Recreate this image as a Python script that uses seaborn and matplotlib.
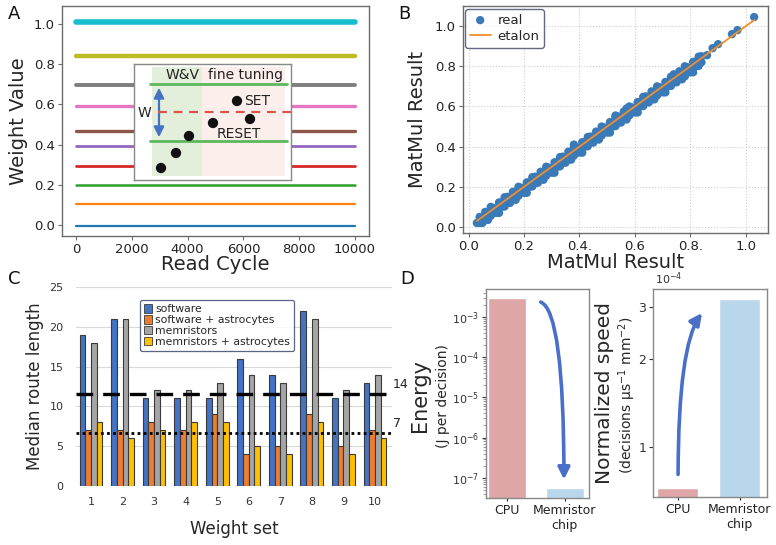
import matplotlib
matplotlib.use("Agg")
import numpy as np
import pandas as pd
import matplotlib.pyplot as plt
import seaborn as sns
from matplotlib.patches import Rectangle, FancyArrowPatch
from matplotlib.ticker import NullFormatter, NullLocator

# ---------------- data ----------------
# Panel A
read_cycle = [0, 10000]
weight_levels = [-0.005, 0.105, 0.2, 0.295, 0.393, 0.47, 0.59, 0.695, 0.84, 1.01]
a_ticks_x = [0, 2000, 4000, 6000, 8000, 10000]
a_ticks_y = [0.0, 0.2, 0.4, 0.6, 0.8, 1.0]
# inset schematic (W&V / fine tuning)
inset_dots_x = [27, 42, 55, 79, 103, 116]
inset_dots_y = [104, 89, 72, 59, 37, 55]

# Panel B
real_x = [0.03, 0.04, 0.04, 0.05, 0.05, 0.06, 0.06, 0.07, 0.07, 0.08, 0.08, 0.09, 0.09, 0.10, 0.10,
          0.11, 0.11, 0.12, 0.12, 0.13, 0.13, 0.14, 0.14, 0.15, 0.15, 0.16, 0.16, 0.17, 0.17,
          0.18, 0.18, 0.19, 0.19, 0.20, 0.20, 0.21, 0.21, 0.22, 0.22, 0.23, 0.23, 0.24, 0.24,
          0.25, 0.25, 0.26, 0.26, 0.27, 0.27, 0.28, 0.28, 0.29, 0.29, 0.30, 0.30, 0.31, 0.31,
          0.32, 0.32, 0.33, 0.33, 0.34, 0.34, 0.35, 0.35, 0.36, 0.36, 0.37, 0.37, 0.38, 0.38,
          0.39, 0.39, 0.40, 0.40, 0.41, 0.41, 0.42, 0.42, 0.43, 0.43, 0.44, 0.44, 0.45, 0.45,
          0.46, 0.46, 0.47, 0.47, 0.48, 0.48, 0.49, 0.49, 0.50, 0.50, 0.51, 0.51, 0.52, 0.52,
          0.53, 0.53, 0.54, 0.54, 0.55, 0.55, 0.56, 0.56, 0.57, 0.57, 0.58, 0.58, 0.59, 0.59,
          0.60, 0.60, 0.61, 0.61, 0.62, 0.62, 0.63, 0.63, 0.64, 0.64, 0.65, 0.65, 0.66, 0.66,
          0.67, 0.67, 0.68, 0.68, 0.69, 0.69, 0.70, 0.70, 0.71, 0.71, 0.72, 0.72, 0.73, 0.73,
          0.74, 0.74, 0.75, 0.75, 0.76, 0.76, 0.77, 0.77, 0.78, 0.78, 0.79, 0.79, 0.80, 0.80,
          0.81, 0.81, 0.82, 0.82, 0.83, 0.83, 0.84, 0.84, 0.86, 0.88, 0.90, 0.95, 0.97, 1.03,
          0.38, 0.53, 0.57, 0.74, 0.78]
real_y = [0.02, 0.05, 0.02, 0.045, 0.02, 0.075, 0.045, 0.07, 0.035, 0.10, 0.055, 0.095, 0.08, 0.09, 0.07,
          0.122, 0.07, 0.123, 0.10, 0.148, 0.102, 0.15, 0.12, 0.145, 0.12, 0.175, 0.145, 0.17, 0.135,
          0.20, 0.155, 0.195, 0.18, 0.19, 0.17, 0.222, 0.17, 0.223, 0.20, 0.248, 0.202, 0.25, 0.22,
          0.245, 0.22, 0.275, 0.245, 0.27, 0.235, 0.30, 0.255, 0.295, 0.28, 0.29, 0.27, 0.322, 0.27,
          0.323, 0.30, 0.348, 0.302, 0.35, 0.32, 0.345, 0.32, 0.375, 0.345, 0.37, 0.335, 0.40, 0.355,
          0.395, 0.38, 0.39, 0.37, 0.422, 0.37, 0.423, 0.40, 0.448, 0.402, 0.45, 0.42, 0.445, 0.42,
          0.475, 0.445, 0.47, 0.435, 0.50, 0.455, 0.495, 0.48, 0.49, 0.47, 0.522, 0.47, 0.523, 0.50,
          0.548, 0.502, 0.55, 0.52, 0.545, 0.52, 0.575, 0.545, 0.57, 0.535, 0.60, 0.555, 0.595, 0.58,
          0.59, 0.57, 0.622, 0.57, 0.623, 0.60, 0.648, 0.602, 0.65, 0.62, 0.645, 0.62, 0.675, 0.645,
          0.67, 0.635, 0.70, 0.655, 0.695, 0.68, 0.69, 0.67, 0.722, 0.67, 0.723, 0.70, 0.748, 0.702,
          0.75, 0.72, 0.745, 0.72, 0.775, 0.745, 0.77, 0.735, 0.80, 0.755, 0.795, 0.78, 0.79, 0.77,
          0.822, 0.77, 0.823, 0.80, 0.848, 0.802, 0.85, 0.82, 0.855, 0.89, 0.91, 0.96, 0.98, 1.045,
          0.41, 0.555, 0.59, 0.76, 0.75]
etalon_x = [0.03, 1.03]
etalon_y = [0.03, 1.03]
b_ticks = [0.0, 0.2, 0.4, 0.6, 0.8, 1.0]
b_xticklabels = ["0.0", "0.2", "0.4.", "0.6", "0.8.", "1.0"]
b_yticklabels = ["0.0", "0.2", "0.4", "0.6", "0.8", "1.0"]

# Panel C
weight_sets = ["1", "2", "3", "4", "5", "6", "7", "8", "9", "10"]
methods = ["software", "software + astrocytes", "memristors", "memristors + astrocytes"]
software = [19, 21, 11, 11, 11, 16, 14, 22, 11, 13]
software_astro = [7, 7, 8, 7, 9, 4, 5, 9, 5, 7]
memristors = [18, 21, 12, 12, 13, 14, 13, 21, 12, 14]
memristors_astro = [8, 6, 7, 8, 8, 5, 4, 8, 4, 6]
ref_dashed = 11.6
ref_dotted = 6.65
ref_labels = ["14", "7"]
c_ticks = [0, 5, 10, 15, 20, 25]

# Panel D
platforms = ["CPU", "Memristor\nchip"]
energy = [2.9e-3, 5.6e-8]
speed = [0.724e-4, 3.2e-4]
speed_ticks = [1e-4, 2e-4, 3e-4]
speed_ticklabels = ["1", "2", "3"]

# ---------------- figure ----------------
sns.set_theme(style="white")
plt.rcParams["font.family"] = ["DejaVu Sans"]
plt.rcParams["axes.unicode_minus"] = True

W, H = 776, 545
fig = plt.figure(figsize=(W / 100, H / 100), dpi=100)
fig.patch.set_facecolor("white")


def px_axes(l, t, r, b):
    return fig.add_axes([l / W, 1 - b / H, (r - l) / W, (b - t) / H])


SPINE = "#6b6b6b"
TICKC = "#222222"

# ---------------- Panel A ----------------
axA = px_axes(62, 6, 369, 236)
tab = sns.color_palette("tab10", 10)
bands = [1.6, 1.6, 1.8, 2.0, 2.0, 2.4, 2.4, 2.8, 3.2, 4.0]
for i, lvl in enumerate(weight_levels):
    sns.lineplot(x=read_cycle, y=[lvl, lvl], ax=axA, color=tab[i], linewidth=bands[i])
axA.set_xlim(-500, 10500)
axA.set_ylim(-0.055, 1.09)
axA.set_xticks(a_ticks_x)
axA.set_yticks(a_ticks_y)
axA.set_xticklabels([str(v) for v in a_ticks_x])
axA.set_yticklabels(["%.1f" % v for v in a_ticks_y])
axA.tick_params(labelsize=9.5, colors=TICKC, length=3, width=0.8, direction="out",
                left=True, bottom=True, pad=2)
axA.tick_params(color=SPINE)
for s in axA.spines.values():
    s.set_color(SPINE)
    s.set_linewidth(1.0)
axA.set_xlabel("Read Cycle", fontsize=14, labelpad=-1)
axA.set_ylabel("Weight Value", fontsize=14, labelpad=4)

# inset schematic
axI = px_axes(134, 64, 291, 180)
axI.set_xlim(0, 157)
axI.set_ylim(116, 0)
axI.set_xticks([])
axI.set_yticks([])
for s in axI.spines.values():
    s.set_color("#888888")
    s.set_linewidth(1.0)
axI.add_patch(Rectangle((18, 3), 50, 109, facecolor="#e3efdb", edgecolor="none", zorder=0))
axI.add_patch(Rectangle((68, 3), 83, 109, facecolor="#fcefeb", edgecolor="none", zorder=0))
axI.plot([16, 153], [20, 20], color="#5cb85c", lw=2)
axI.plot([16, 153], [77, 77], color="#5cb85c", lw=2)
axI.plot([24, 157], [48, 48], color="#d9534f", lw=1.6, ls=(0, (4, 3)))
axI.add_patch(FancyArrowPatch((25, 21), (25, 76), arrowstyle="<|-|>,head_length=4,head_width=2",
                              color="#4472c4", lw=1.6, mutation_scale=1.5))
sns.scatterplot(x=inset_dots_x, y=inset_dots_y, ax=axI, s=55, color="#111111",
                edgecolor="none", zorder=5, legend=False)
axI.set_xlim(0, 157)
axI.set_ylim(116, 0)
axI.set_xlabel("")
axI.set_ylabel("")
axI.text(49, 11, "W&V", fontsize=10, ha="center", va="center", color="#222222")
axI.text(111, 11, "fine tuning", fontsize=10, ha="center", va="center", color="#222222")
axI.text(10, 49, "W", fontsize=10, ha="center", va="center", color="#222222")
axI.text(110, 37, "SET", fontsize=10, ha="left", va="center", color="#222222")
axI.text(83, 70, "RESET", fontsize=10, ha="left", va="center", color="#222222")

# ---------------- Panel B ----------------
axB = px_axes(463, 6, 768, 233)
sns.scatterplot(x=real_x, y=real_y, ax=axB, s=36, color="#3b7ab8", edgecolor="none",
                label="real", zorder=3)
sns.lineplot(x=etalon_x, y=etalon_y, ax=axB, color="#f28e2b", linewidth=1.3,
             label="etalon", zorder=4)
axB.set_xlim(-0.02, 1.08)
axB.set_ylim(-0.03, 1.10)
axB.set_xticks(b_ticks)
axB.set_yticks(b_ticks)
axB.set_xticklabels(b_xticklabels)
axB.set_yticklabels(b_yticklabels)
axB.grid(True, color="#cccccc", linestyle=":", linewidth=0.8)
axB.set_axisbelow(True)
axB.tick_params(labelsize=9.5, colors=TICKC, length=3, width=0.8, direction="out",
                left=True, bottom=True, pad=2)
axB.tick_params(color=SPINE)
for s in axB.spines.values():
    s.set_color(SPINE)
    s.set_linewidth(1.0)
axB.set_xlabel("MatMul Result", fontsize=14, labelpad=0)
axB.set_ylabel("MatMul Result", fontsize=14, labelpad=6)
legB = axB.legend(loc="upper left", bbox_to_anchor=(465 / W, 1 - 9 / H),
                  bbox_transform=fig.transFigure, fontsize=9.5, frameon=True, fancybox=True,
                  handlelength=1.6, handletextpad=0.5, borderpad=0.35, labelspacing=0.25,
                  borderaxespad=0)
legB.get_frame().set_edgecolor("#3a4466")
legB.get_frame().set_linewidth(1.0)

# ---------------- Panel C ----------------
axC = px_axes(76, 287, 392, 486)
dfC = pd.DataFrame({
    "set": weight_sets * 4,
    "length": software + software_astro + memristors + memristors_astro,
    "method": [m for m in methods for _ in weight_sets],
})
c_colors = ["#4472c4", "#ed7d31", "#a5a5a5", "#ffc000"]
sns.barplot(data=dfC, x="set", y="length", hue="method", hue_order=methods,
            palette=c_colors, width=0.72, edgecolor="#3a3a3a", linewidth=0.8,
            ax=axC, saturation=1)
axC.set_xlim(-0.475, 9.54)
axC.set_ylim(0, 25)
axC.set_yticks(c_ticks)
axC.grid(True, axis="y", color="#d9d9d9", linewidth=0.8)
axC.grid(False, axis="x")
axC.set_axisbelow(True)
for s in axC.spines.values():
    s.set_visible(False)
axC.tick_params(labelsize=8, colors="#333333", length=0, pad=9)
axC.tick_params(axis="x", pad=8)
axC.axhline(ref_dashed, color="black", lw=2.4, ls=(0, (5, 3)), zorder=5)
axC.axhline(ref_dotted, color="black", lw=2.0, ls=(0, (1, 1.2)), zorder=5)
axC.text(9.56, ref_dashed + 1.1, ref_labels[0], fontsize=9, ha="left", va="center",
         color="#222222", clip_on=False)
axC.text(9.56, ref_dotted + 1.15, ref_labels[1], fontsize=9, ha="left", va="center",
         color="#222222", clip_on=False)
axC.set_xlabel("Weight set", fontsize=12, labelpad=9)
axC.set_ylabel("Median route length", fontsize=12, labelpad=4)
legC = axC.legend(loc="upper left", bbox_to_anchor=(140 / W, 1 - 300 / H),
                  bbox_transform=fig.transFigure, fontsize=7.8, frameon=True, fancybox=True,
                  handlelength=0.7, handleheight=0.8, handletextpad=0.3, borderpad=0.4,
                  labelspacing=0.08, borderaxespad=0, title=None)
legC.get_frame().set_edgecolor("#2f3e6b")
legC.get_frame().set_linewidth(0.9)
for p in legC.get_patches():
    p.set_edgecolor("#3a3a3a")
    p.set_linewidth(0.6)

# ---------------- Panel D (energy) ----------------
d_colors = ["#dea6a6", "#b9d7eb"]
axD1 = px_axes(486, 289, 589, 498)
sns.barplot(x=platforms, y=energy, hue=platforms, palette=d_colors, legend=False,
            width=0.66, ax=axD1, saturation=1)
axD1.set_yscale("log")
axD1.set_ylim(10 ** -7.5, 10 ** -2.31)
axD1.set_xlim(-0.36, 1.42)
axD1.yaxis.set_minor_formatter(NullFormatter())
axD1.tick_params(axis="y", which="major", labelsize=8, colors="#333333", length=3,
                 width=0.8, direction="out", left=True, pad=2)
axD1.tick_params(axis="y", which="minor", length=2, width=0.6, left=True, colors="#888888")
axD1.tick_params(axis="x", labelsize=9, colors="#222222", length=2.5, width=0.8,
                 direction="out", bottom=True, pad=2)
for s in axD1.spines.values():
    s.set_color("#888888")
    s.set_linewidth(1.0)
axD1.set_xlabel("")
axD1.set_ylabel("")
axD1.add_patch(FancyArrowPatch((0.505, 0.94), (0.757, 0.075), transform=axD1.transAxes,
                               connectionstyle="angle3,angleA=0,angleB=90",
                               arrowstyle="-|>,head_length=7,head_width=3.5",
                               color="#4a6fc8", lw=2.6, mutation_scale=1))
fig.text(420 / W, 1 - 396 / H, "Energy", rotation=90, fontsize=15, ha="center", va="center")
fig.text(443 / W, 1 - 396 / H, "(J per decision)", rotation=90, fontsize=10,
         ha="center", va="center")

# ---------------- Panel D (speed) ----------------
axD2 = px_axes(653, 289, 767, 497)
sns.barplot(x=platforms, y=speed, hue=platforms, palette=d_colors, legend=False,
            width=0.66, ax=axD2, saturation=1)
axD2.set_yscale("log")
axD2.set_ylim(0.674e-4, 3.46e-4)
axD2.set_xlim(-0.40, 1.44)
axD2.set_yticks(speed_ticks)
axD2.set_yticklabels(speed_ticklabels)
axD2.yaxis.set_minor_locator(NullLocator())
axD2.tick_params(axis="y", labelsize=9, colors="#333333", length=3, width=0.8,
                 direction="out", left=True, pad=2)
axD2.tick_params(axis="x", labelsize=9, colors="#222222", length=2.5, width=0.8,
                 direction="out", bottom=True, pad=2)
for s in axD2.spines.values():
    s.set_color("#888888")
    s.set_linewidth(1.0)
axD2.set_xlabel("")
axD2.set_ylabel("")
axD2.text(0.02, 1.01, r"$10^{-4}$", transform=axD2.transAxes, fontsize=8, ha="left",
          va="bottom", color="#333333")
axD2.add_patch(FancyArrowPatch((0.22, 0.095), (0.445, 0.895), transform=axD2.transAxes,
                               connectionstyle="angle3,angleA=90,angleB=50",
                               arrowstyle="-|>,head_length=7,head_width=3.5",
                               color="#4a6fc8", lw=2.6, mutation_scale=1))
fig.text(604 / W, 1 - 393 / H, "Normalized speed", rotation=90, fontsize=14.5,
         ha="center", va="center")
fig.text(627 / W, 1 - 395 / H, r"(decisions μs$^{-1}$ mm$^{-2}$)", rotation=90,
         fontsize=10, ha="center", va="center")

# ---------------- panel letters ----------------
for lab, x, y in [("A", 14, 14), ("B", 404, 14), ("C", 14, 279), ("D", 407, 279)]:
    fig.text(x / W, 1 - y / H, lab, fontsize=13, ha="center", va="center", color="#111111")

fig.savefig("out.png", dpi=100, facecolor="white")
